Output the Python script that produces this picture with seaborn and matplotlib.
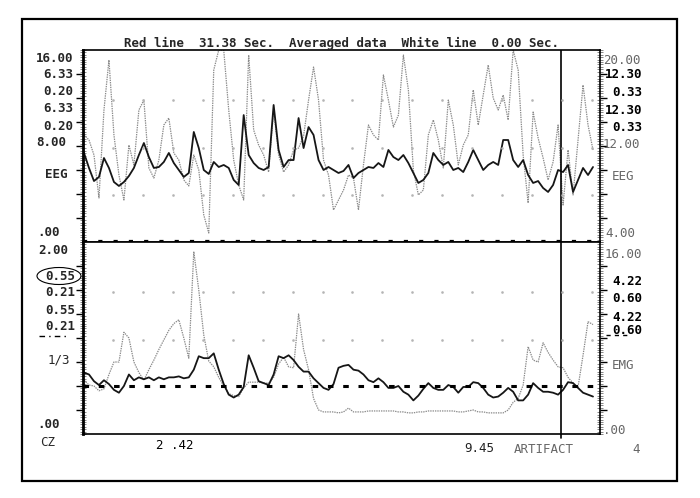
import numpy as np
import seaborn as sns
import matplotlib.pyplot as plt
from matplotlib.patches import Ellipse, Rectangle
from matplotlib.lines import Line2D
from matplotlib.ticker import MultipleLocator

# sample times (sec), one sample every 0.5 s
t = np.arange(103) * 0.5

# EEG panel (top): averaged trace (dark) and red-line trace (dotted grey)
eeg_avg = [7.42, 6.17, 5.08, 5.42, 7.0, 6.17, 5.0, 4.67, 5.0, 5.5, 6.17, 7.25, 8.25, 7.08, 6.17, 6.25,
           6.67, 7.42, 6.58, 6.0, 5.42, 5.75, 9.17, 7.83, 6.0, 5.67, 6.67, 6.25, 6.42, 6.17, 5.17, 4.75,
           10.58, 7.25, 6.58, 6.17, 6.0, 6.25, 11.42, 7.67, 6.25, 6.83, 6.83, 10.33, 7.83, 9.58, 8.92,
           6.83, 6.0, 6.25, 6.0, 5.75,
           5.92, 6.42, 5.33, 5.75, 6.0, 6.25, 6.17, 6.58, 6.25, 7.67, 7.08, 6.83, 7.25, 6.58, 5.75, 4.92,
           5.17, 5.75, 7.42, 6.83, 6.42, 6.67, 6.0, 6.17, 5.83, 6.67, 7.67, 6.83, 6.0, 6.42, 6.67, 6.42,
           8.5, 8.5, 6.83, 6.25, 6.83, 5.58, 4.92, 5.08, 4.5, 4.17, 4.75, 6.0, 5.83, 6.42, 4.17, 5.17,
           6.17, 5.58, 6.25]
eeg_red = [8.92, 8.5, 7.25, 3.67, 11.0, 15.17, 8.92, 5.58, 3.5, 8.08, 6.42, 11.0, 11.83, 6.17, 5.33,
           6.83, 9.75, 10.33, 7.42, 6.83, 5.17, 4.67, 7.25, 6.0, 2.25, 0.75, 14.33, 16.0, 16.0, 11.0,
           6.83, 4.75, 3.5, 15.58, 9.33, 8.08, 7.25, 5.83, 11.0, 7.25, 5.83, 6.42, 7.67, 7.83, 8.83,
           11.83, 14.58, 11.83, 6.83, 5.58, 2.67, 3.5,
           4.33, 5.58, 5.33, 2.67, 6.42, 9.75, 8.92, 8.5, 13.92, 11.83, 9.58, 10.58, 15.58, 12.67, 6.0,
           3.92, 4.33, 8.92, 10.17, 8.5, 6.17, 11.83, 9.75, 6.42, 8.08, 8.92, 12.67, 9.75, 12.25, 14.75,
           12.0, 11.0, 12.25, 10.17, 16.0, 14.33, 7.25, 3.25, 10.83, 8.67, 7.0, 5.17, 6.67, 9.75, 3.08,
           7.67, 3.92, 8.5, 13.08, 9.75, 7.67]

# EMG panel (bottom)
emg_avg = [0.64, 0.62, 0.55, 0.51, 0.56, 0.52, 0.46, 0.43, 0.5, 0.62, 0.56, 0.59, 0.57, 0.59, 0.56,
           0.59, 0.57, 0.59, 0.59, 0.6, 0.58, 0.59, 0.67, 0.81, 0.79, 0.79, 0.84, 0.67, 0.52, 0.41,
           0.38, 0.41, 0.49, 0.82, 0.69, 0.55, 0.53, 0.51, 0.62, 0.81, 0.79, 0.82, 0.77, 0.7, 0.65,
           0.65, 0.58, 0.53, 0.48, 0.46, 0.52, 0.69,
           0.71, 0.72, 0.67, 0.66, 0.62, 0.56, 0.54, 0.58, 0.54, 0.48, 0.48, 0.5, 0.44, 0.41, 0.35,
           0.4, 0.47, 0.53, 0.48, 0.46, 0.46, 0.51, 0.49, 0.43, 0.49, 0.49, 0.54, 0.53, 0.48, 0.41,
           0.38, 0.39, 0.43, 0.48, 0.44, 0.35, 0.35, 0.41, 0.53, 0.48, 0.44, 0.44, 0.43, 0.41, 0.46,
           0.54, 0.53, 0.48, 0.43, 0.41, 0.39]
emg_red = [0.56, 0.51, 0.5, 0.45, 0.47, 0.62, 0.75, 0.75, 1.06, 1.0, 0.75, 0.64, 0.56, 0.67, 0.77,
           0.88, 0.98, 1.08, 1.15, 1.19, 1.0, 0.79, 1.9, 1.5, 1.03, 0.76, 0.7, 0.59, 0.5, 0.42, 0.4,
           0.39, 0.48, 0.54, 0.54, 0.54, 0.53, 0.53, 0.59, 0.73, 0.8, 0.7, 0.69, 1.25, 0.88, 0.67,
           0.37, 0.25, 0.23, 0.23, 0.23, 0.22,
           0.23, 0.27, 0.23, 0.23, 0.23, 0.24, 0.24, 0.24, 0.24, 0.24, 0.24, 0.23, 0.23, 0.22, 0.22,
           0.23, 0.23, 0.24, 0.24, 0.24, 0.24, 0.24, 0.24, 0.23, 0.23, 0.24, 0.25, 0.23, 0.23, 0.22,
           0.22, 0.22, 0.22, 0.25, 0.33, 0.37, 0.51, 0.91, 0.77, 0.75, 0.95, 0.85, 0.77, 0.7, 0.69,
           0.59, 0.53, 0.49, 0.82, 1.17, 1.14]

artifact_t = 47.8

title = "Red line  31.38 Sec.  Averaged data  White line  0.00 Sec."
left_top = ["16.00", "6.33", "0.20", "6.33", "0.20", "8.00", "EEG", ".00"]
left_bot = ["2.00", "0.55", "0.21", "0.55", "0.21", "1/3", ".00", "CZ"]
right_top = ["20.00", "12.30", "0.33", "12.30", "0.33", "12.00", "EEG", "4.00"]
right_bot = ["16.00", "4.22", "0.60", "4.22", "0.60", "EMG", ".00"]
bottom_labels = ["2 .42", "9.45", "ARTIFACT", "4"]

sns.set_style("white")
plt.rcParams['font.family'] = ['DejaVu Sans Mono']
plt.rcParams['lines.scale_dashes'] = False

W, H = 700, 498
fig = plt.figure(figsize=(7, 4.98), dpi=100)


def fx(px):
    return px / W


def fy(py):
    return 1 - py / H


ax_top = fig.add_axes([fx(83), fy(242), 517 / W, 192 / H])
ax_bot = fig.add_axes([fx(83), fy(434), 517 / W, 192 / H])

dark = '#161616'
grey = '#8a8a8a'

sns.lineplot(x=t, y=eeg_red, ax=ax_top, color=grey, lw=0.9, linestyle=(0, (1, 0.7)),
             estimator=None, sort=False)
sns.lineplot(x=t, y=eeg_avg, ax=ax_top, color=dark, lw=1.3, estimator=None, sort=False)
sns.lineplot(x=t, y=emg_red, ax=ax_bot, color=grey, lw=0.9, linestyle=(0, (1, 0.7)),
             estimator=None, sort=False)
sns.lineplot(x=t, y=emg_avg, ax=ax_bot, color=dark, lw=1.3, estimator=None, sort=False)

ax_top.set_ylim(0, 16)
ax_bot.set_ylim(0, 2)
for ax, step, major in [(ax_top, 0.2, 2), (ax_bot, 0.025, 0.25)]:
    ax.set_xlim(-0.1, 51.7)
    ax.set_xlabel('')
    ax.set_ylabel('')
    ax.set_xticks([])
    ax.yaxis.set_major_locator(MultipleLocator(major))
    ax.yaxis.set_minor_locator(MultipleLocator(step))
    ax.tick_params(axis='y', which='major', left=True, right=True, direction='out',
                   length=5, width=1, color='black', labelleft=False, labelright=False)
    ax.tick_params(axis='y', which='minor', left=True, right=True, direction='inout',
                   length=4, width=0.5, color='#555555')
    for s in ax.spines.values():
        s.set_color('black')
        s.set_linewidth(1.2)
    ax.spines['left'].set_linewidth(2)
    ax.set_facecolor('white')

ax_top.axvline(artifact_t, color='black', lw=1.2)
ax_bot.axvline(artifact_t, ymin=-0.02, ymax=1, color='black', lw=1.2, clip_on=False)

# major ticks away from the panel edges
ax_top.set_yticks(np.arange(2, 15, 2))
ax_bot.set_yticks(np.arange(0.25, 1.8, 0.25))

# reference lines and faint grid dots
ax_top.axhline(0.12, color='black', lw=1.6, dashes=(3, 8))
ax_bot.axhline(0.5, color='black', lw=2.2, dashes=(4, 7))
gx = np.arange(2.9, 51, 3.0)
for ax, levels in [(ax_top, [3.9, 7.85, 11.8]), (ax_bot, [0.98, 1.48])]:
    for lv in levels:
        ax.plot(gx, [lv] * len(gx), ls='', marker='s', ms=0.8, color='#b4b4b4')

# outer frame
fig.add_artist(Rectangle((fx(22), fy(481)), 655 / W, 462 / H, transform=fig.transFigure,
                         fill=False, lw=1.6, color='black'))

fs = 9
fig.text(fx(341), fy(43), title, ha='center', va='center', fontsize=fs, fontweight='bold')

lt_y = [59, 74, 91, 108, 126, 142, 175, 232]
lt_x = [73, 73, 73, 73, 73, 66, 67, 60]
for s, x, y in zip(left_top, lt_x, lt_y):
    fig.text(fx(x), fy(y), s, ha='right', va='center', fontsize=fs, fontweight='bold')

lb_y = [250, 276, 292, 310, 327, 360, 425, 443]
lb_x = [68, 75, 75, 75, 75, 70, 60, 55]
lb_w = ['bold', 'bold', 'bold', 'bold', 'bold', 'normal', 'bold', 'normal']
for s, x, y, w in zip(left_bot, lb_x, lb_y, lb_w):
    fig.text(fx(x), fy(y), s, ha='right', va='center', fontsize=fs, fontweight=w)

fig.add_artist(Ellipse((fx(59), fy(276)), 44 / W, 17 / H, transform=fig.transFigure,
                       fill=False, lw=0.8, color='black'))
fig.add_artist(Line2D([fx(39), fx(67)], [fy(336)] * 2, color='black', lw=1,
                      dashes=(4, 3, 1, 3)))

rt_y = [60, 74, 92, 110, 127, 144, 177, 233]
rt_x = [603, 605, 612, 605, 612, 603, 612, 605]
rt_bold = [False, True, True, True, True, False, False, False]
rb_y = [254, 281, 298, 317, 330, 365, 430]
rb_x = [605, 612, 612, 612, 612, 612, 603]
rb_bold = [False, True, True, True, True, False, False]
for labels, xs, ys, bolds in [(right_top, rt_x, rt_y, rt_bold), (right_bot, rb_x, rb_y, rb_bold)]:
    for s, x, y, b in zip(labels, xs, ys, bolds):
        fig.text(fx(x), fy(y), s, ha='left', va='center', fontsize=fs,
                 fontweight='bold' if b else 'normal', color='black' if b else '#666666')

fig.add_artist(Line2D([fx(606), fx(628)], [fy(335)] * 2, color='black', lw=1, dashes=(3, 3)))

bl_x = [175, 479, 544, 636]
bl_y = [445, 448, 449, 449]
bl_c = ['black', '#222222', '#666666', '#666666']
for s, x, y, c in zip(bottom_labels, bl_x, bl_y, bl_c):
    fig.text(fx(x), fy(y), s, ha='center', va='center', fontsize=fs, color=c)

fig.savefig('out.png', dpi=100, facecolor='white')
